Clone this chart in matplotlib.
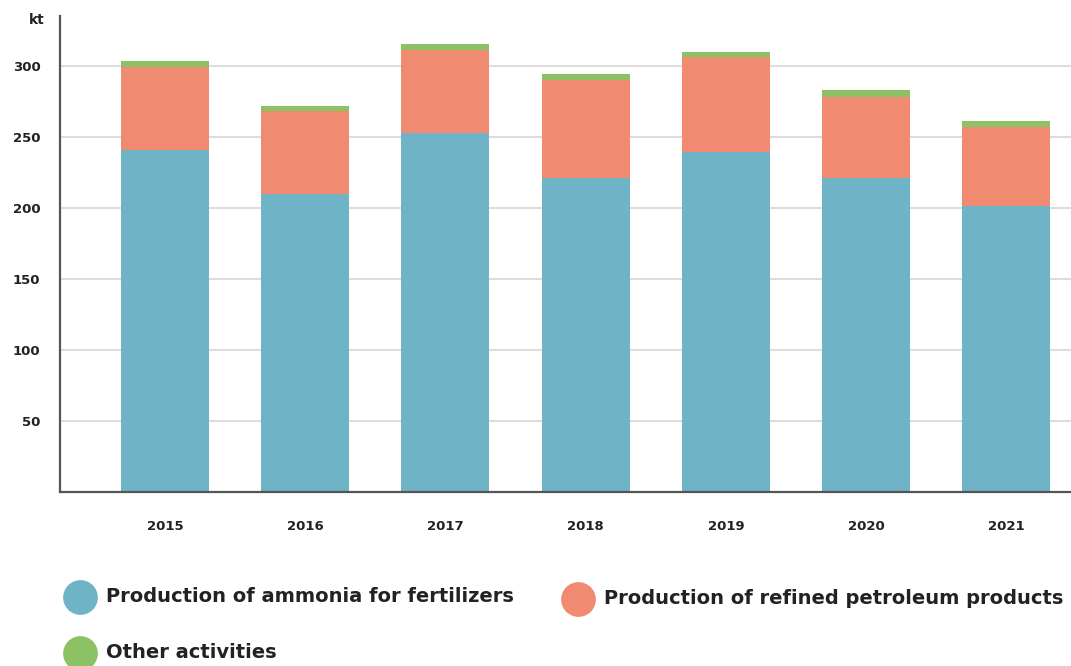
import matplotlib
matplotlib.use("Agg")
import matplotlib.pyplot as plt
from matplotlib.lines import Line2D
import numpy as np

# values (kt)
years = ["2015", "2016", "2017", "2018", "2019", "2020", "2021"]
ammonia = [241, 210, 253, 221, 239, 221, 201]
petroleum = [58, 58, 58, 69, 67, 57, 56]
other = [4, 4, 4, 4, 4, 5, 4]

labels = ["Production of ammonia for fertilizers",
          "Production of refined petroleum products",
          "Other activities"]
colors = ["#6fb3c7", "#f08a70", "#8cc263"]

plt.rcParams['font.family'] = ['DejaVu Sans']

fig = plt.figure(figsize=(10.71, 6.66), dpi=100)
ax = fig.add_axes([60 / 1071, 174 / 666, 1 - 60 / 1071, (492 - 16) / 666])

x = np.arange(len(years))
width = 0.628
bottom = np.zeros(len(years))
for vals, col in zip([ammonia, petroleum, other], colors):
    ax.bar(x, vals, width, bottom=bottom, color=col, zorder=3)
    bottom += np.array(vals)

ax.set_xlim(-0.749, 6.462)
ax.set_ylim(0, 335)
ax.set_yticks([50, 100, 150, 200, 250, 300])
ax.set_xticks(x)
ax.set_xticklabels(years)
ax.tick_params(axis='both', length=0, labelsize=9.5, colors='#222222')
ax.tick_params(axis='y', pad=14)
ax.tick_params(axis='x', pad=20)
for lab in ax.get_xticklabels() + ax.get_yticklabels():
    lab.set_fontweight('bold')

ax.grid(True, axis='y', color='#dddddd', linewidth=1.5, zorder=0)
for side in ['top', 'right']:
    ax.spines[side].set_visible(False)
for side in ['left', 'bottom']:
    ax.spines[side].set_color('#555555')
    ax.spines[side].set_linewidth(1.6)
    ax.spines[side].set_zorder(4)

fig.text(37 / 1071, 1 - 20 / 666, "kt", ha='center', va='center',
         fontsize=10, fontweight='bold', color='#222222')

# legend drawn by hand at figure positions
spots = [(80, 597), (578, 599), (80, 653)]
for (px, py), lab, col in zip(spots, labels, colors):
    fig.add_artist(Line2D([px / 1071], [1 - py / 666], marker='o', markersize=24,
                          color=col, transform=fig.transFigure, linestyle='none'))
    fig.text((px + 26) / 1071, 1 - py / 666, lab, ha='left', va='center',
             fontsize=14, fontweight='bold', color='#222222')

fig.savefig("out.png", dpi=100)
